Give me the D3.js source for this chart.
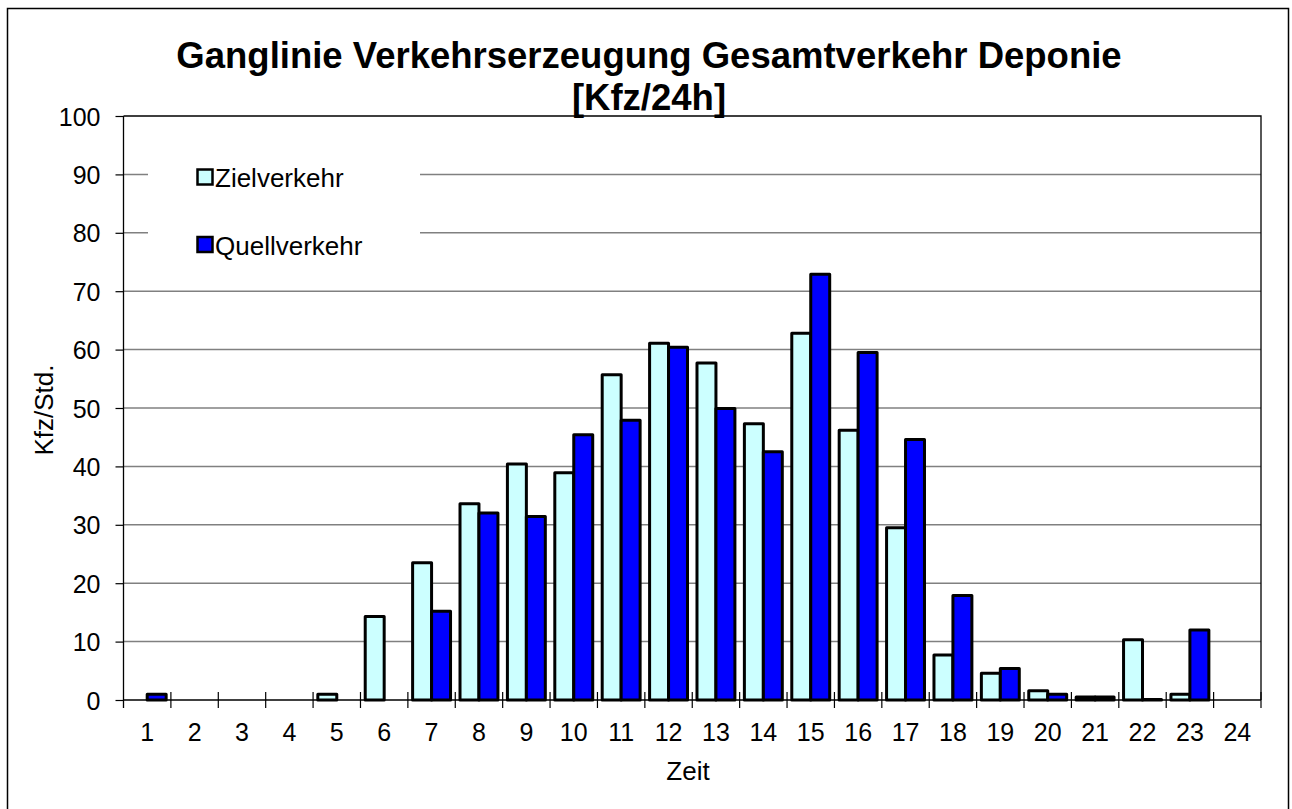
<!DOCTYPE html>
<html><head><meta charset="utf-8">
<script src="https://cdn.jsdelivr.net/npm/d3@7"></script>
<style>body{margin:0;background:#fff;} text{font-family:"Liberation Sans",Arial,sans-serif;}</style>
</head><body>
<svg id="c" width="1292" height="809"></svg>
<script>
const categories = ["1","2","3","4","5","6","7","8","9","10","11","12","13","14","15","16","17","18","19","20","21","22","23","24"];
const zielverkehr = [0,0,0,0,1,14.3,23.5,33.6,40.4,38.9,55.7,61.1,57.7,47.3,62.8,46.2,29.5,7.7,4.6,1.6,0.5,10.3,1.0,0];
const quellverkehr = [1.0,0,0,0,0,0,15.2,32.0,31.4,45.4,47.9,60.4,49.9,42.5,72.9,59.5,44.6,17.9,5.4,1.0,0.5,0.1,12.0,0];
const seriesNames = ["Zielverkehr","Quellverkehr"];
const seriesColors = ["#CCFFFF","#0000FF"];
const yTicks = [0,10,20,30,40,50,60,70,80,90,100];
const titleLines = ["Ganglinie Verkehrserzeugung Gesamtverkehr Deponie","[Kfz/24h]"];

const FONT = "Liberation Sans, Arial, sans-serif";
const svg = d3.select("#c");
const L=123.5, R=1261, T=116, B=700;
const x = d3.scaleBand().domain(categories).range([L,R]).padding(0);
const bw = x.bandwidth();
const xs = d3.scaleBand().domain(seriesNames).range([bw*0.1,bw*0.9]);
const y = d3.scaleLinear().domain([0,100]).range([B,T]);

// outer border
svg.append("rect").attr("x",7.5).attr("y",8.5).attr("width",1281).attr("height",820)
  .attr("fill","none").attr("stroke","#000").attr("stroke-width",1.5);

// gridlines
svg.append("g").selectAll("line").data(yTicks.filter(d=>d>0&&d<100)).join("line")
  .attr("x1",L).attr("x2",R).attr("y1",d=>y(d)).attr("y2",d=>y(d))
  .attr("stroke","#808080").attr("stroke-width",1.5);
// plot top & right border
svg.append("path").attr("d",`M${L},${T}H${R}V${B}`).attr("fill","none").attr("stroke","#000").attr("stroke-width",1.3);

// legend box (white, covers grid)
svg.append("rect").attr("x",148).attr("y",140).attr("width",272).attr("height",128).attr("fill","#fff");
const leg = svg.append("g");
seriesNames.forEach((s,i)=>{
  const yy = 169.5 + i*67.5;
  leg.append("rect").attr("x",197.5).attr("y",yy).attr("width",15).attr("height",15)
    .attr("fill",seriesColors[i]).attr("stroke","#000").attr("stroke-width",2.5);
  leg.append("text").attr("x",215).attr("y",yy+17.5).attr("font-size",26).attr("fill","#000").text(s);
});

// bars
const data = [zielverkehr, quellverkehr];
const gBars = svg.append("g");
data.forEach((vals,si)=>{
  gBars.append("g").selectAll("rect").data(vals.map((v,i)=>({c:categories[i],v})).filter(d=>d.v>0)).join("rect")
    .attr("x",d=>x(d.c)+xs(seriesNames[si]))
    .attr("width",xs.bandwidth())
    .attr("y",d=>y(d.v))
    .attr("height",d=>B-y(d.v))
    .attr("fill",seriesColors[si]).attr("stroke","#000").attr("stroke-width",3).attr("stroke-linejoin","round");
});

// y axis
const yAxis = svg.append("g").attr("transform",`translate(${L},0)`)
  .call(d3.axisLeft(y).tickValues(yTicks).tickSize(8).tickPadding(15).tickSizeOuter(0));
yAxis.select(".domain").remove();
yAxis.selectAll(".tick line").attr("stroke","#000").attr("stroke-width",1.2);
yAxis.selectAll("text").attr("font-size",25).attr("font-family",FONT).attr("fill","#000").attr("dy","0.36em");
svg.append("line").attr("x1",L).attr("x2",L).attr("y1",T).attr("y2",B+8).attr("stroke","#000").attr("stroke-width",1.3);

// x axis
svg.append("line").attr("x1",L).attr("x2",R).attr("y1",B).attr("y2",B).attr("stroke","#000").attr("stroke-width",1.3);
const bounds = categories.map(c=>x(c)).concat([R]);
svg.append("g").selectAll("line").data(bounds.slice(1)).join("line")
  .attr("x1",d=>d).attr("x2",d=>d).attr("y1",B-8).attr("y2",B+8).attr("stroke","#000").attr("stroke-width",1.2);
const xAxis = svg.append("g").attr("transform",`translate(0,${B})`)
  .call(d3.axisBottom(x).tickSize(0).tickPadding(23));
xAxis.select(".domain").remove();
xAxis.selectAll("text").attr("font-size",25).attr("font-family",FONT).attr("fill","#000");

// axis titles
svg.append("text").attr("x",688).attr("y",780).attr("text-anchor","middle").attr("font-size",26).text("Zeit");
svg.append("text").attr("transform","translate(53,410) rotate(-90)").attr("text-anchor","middle").attr("font-size",26).text("Kfz/Std.");

// title
svg.append("g").selectAll("text").data(titleLines).join("text")
  .attr("x",649).attr("y",(d,i)=>68+i*42).attr("text-anchor","middle")
  .attr("font-size",36.5).attr("font-weight","bold").attr("fill","#000").text(d=>d);
</script>
</body></html>
